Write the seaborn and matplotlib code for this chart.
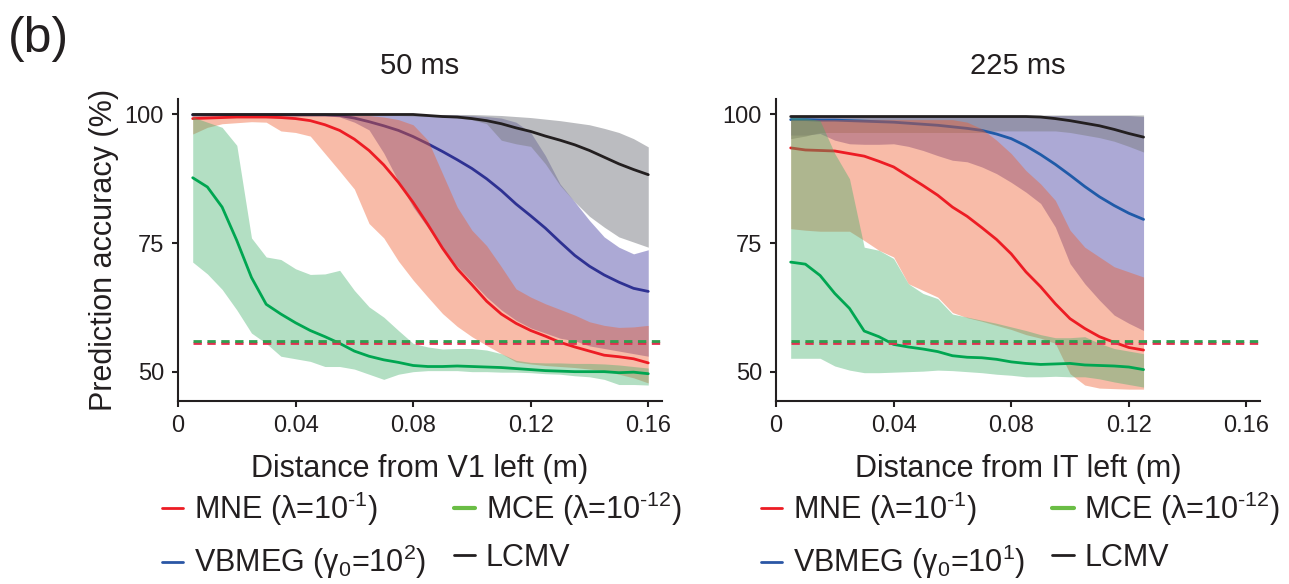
import numpy as np
import pandas as pd
import seaborn as sns
import matplotlib.pyplot as plt
from matplotlib.lines import Line2D

# distance bins (m)
dist_v1 = [round(0.005 * i, 3) for i in range(1, 33)]
dist_it = [round(0.005 * i, 3) for i in range(1, 26)]

# ---- 50 ms, V1 left ----
mne_v1 = [99.2, 99.3, 99.4, 99.5, 99.5, 99.5, 99.4, 99.2, 98.8, 98.0, 96.9, 95.2, 93.0, 90.2, 86.8, 82.9,
          78.6, 74.0, 70.0, 66.9, 63.7, 61.2, 59.4, 58.0, 56.9, 55.7, 54.8, 54.0, 53.2, 52.9, 52.5, 51.7]
mne_v1_hi = [99.8] * 13 + [99.5, 99.0, 98.0, 95.0, 88.5, 82.0, 77.5, 74.5, 70.4, 66.1, 64.5, 63.2, 62.1,
                           61.0, 59.7, 59.0, 58.6, 58.7, 59.0]
mne_v1_lo = [96.2, 97.5, 98.2, 98.4, 98.6, 98.5, 96.8, 96.5, 95.8, 92.4, 89.0, 85.5, 78.8, 76.0, 71.5, 67.8,
             64.5, 61.3, 58.8, 56.8, 55.1, 53.5, 51.9, 51.5, 51.2, 51.0, 50.8, 50.5, 50.2, 49.5, 48.8, 47.8]

vb_v1 = [99.9] * 10 + [99.8, 99.3, 98.6, 97.8, 96.9, 95.7, 94.3, 92.8, 91.2, 89.5, 87.5, 85.2, 82.6, 80.3,
                       77.9, 75.2, 72.6, 70.5, 68.8, 67.4, 66.2, 65.6]
vb_v1_hi = [99.9] * 19 + [99.8, 99.6, 99.3, 98.5, 96.5, 92.0, 86.5, 83.0, 79.4, 76.2, 74.2, 72.9, 73.7]
vb_v1_lo = [99.8] * 10 + [99.5, 98.5, 97.0, 92.5, 87.0, 82.0, 78.0, 74.0, 70.5, 67.5, 64.5, 62.0, 60.0, 58.5,
                          57.5, 56.5, 56.0, 55.0, 54.5, 54.0, 53.5, 53.0]

lcmv_v1 = [100.0] * 16 + [99.8, 99.6, 99.5, 99.2, 98.8, 98.2, 97.4, 96.7, 95.8, 95.0, 94.1, 93.0, 91.7,
                          90.4, 89.3, 88.3]
lcmv_v1_hi = [100.0] * 20 + [99.9, 99.8, 99.6, 99.4, 99.1, 98.8, 98.4, 98.0, 97.3, 96.5, 95.3, 93.7]
lcmv_v1_lo = [99.8] * 15 + [99.7, 99.6, 99.5, 99.3, 99.0, 98.2, 95.0, 94.3, 93.8, 90.4, 86.2, 83.0, 80.2,
                            78.1, 76.2, 75.2, 74.2]

mce_v1 = [87.7, 85.9, 82.0, 75.5, 68.3, 63.1, 61.2, 59.5, 58.0, 56.8, 55.5, 54.0, 53.0, 52.3, 51.8, 51.2,
          51.0, 51.0, 51.1, 51.0, 50.9, 50.8, 50.6, 50.4, 50.2, 50.1, 50.0, 50.0, 50.0, 49.8, 49.9, 49.6]
mce_v1_hi = [99.5, 98.5, 97.5, 94.0, 76.0, 72.3, 71.8, 70.0, 68.9, 69.0, 69.7, 65.8, 62.6, 60.6, 58.0, 55.5,
             54.8, 54.4, 54.5, 54.5, 54.2, 53.5, 52.2, 51.8, 51.7, 51.7, 51.6, 51.6, 51.5, 51.3, 51.0, 50.7]
mce_v1_lo = [71.3, 69.0, 66.0, 62.0, 57.5, 55.5, 53.0, 52.5, 52.0, 51.0, 51.0, 50.5, 49.5, 48.5, 49.5, 50.0,
             50.2, 50.2, 50.2, 50.0, 50.0, 49.9, 49.9, 49.8, 49.6, 49.5, 49.2, 49.0, 48.5, 47.5, 47.5, 47.4]

# ---- 225 ms, IT left ----
mne_it = [93.5, 93.1, 93.0, 92.9, 92.4, 91.9, 90.9, 89.8, 88.0, 86.2, 84.3, 82.0, 80.2, 78.0, 75.7, 72.9,
          69.4, 66.5, 63.2, 60.3, 58.4, 56.8, 55.7, 54.7, 54.2]
mne_it_hi = [99.0] * 12 + [98.5, 97.2, 95.0, 92.4, 89.1, 86.5, 83.3, 77.5, 74.2, 72.3, 70.4, 69.4, 68.4]
mne_it_lo = [77.8, 77.5, 77.3, 77.3, 77.3, 75.5, 73.6, 72.3, 67.1, 65.8, 64.5, 61.5, 60.5, 59.8, 59.0, 58.2,
             57.2, 56.5, 55.5, 49.6, 47.4, 46.8, 46.7, 46.6, 46.6]

vb_it = [99.0, 99.0, 98.9, 98.9, 98.8, 98.7, 98.6, 98.5, 98.3, 98.1, 97.9, 97.6, 97.3, 96.9, 96.2, 95.3,
         93.9, 92.2, 90.3, 88.2, 86.0, 84.0, 82.3, 80.8, 79.6]
vb_it_hi = [99.8] * 24 + [99.6]
vb_it_lo = [96.0, 96.0, 96.3, 95.0, 94.3, 94.2, 94.2, 94.3, 93.8, 93.0, 92.0, 91.1, 90.8, 89.8, 88.5, 86.8,
            84.9, 82.7, 78.1, 71.0, 67.1, 63.9, 61.0, 59.4, 58.0]

lcmv_it = [99.6] * 17 + [99.5, 99.2, 98.8, 98.3, 97.8, 97.1, 96.3, 95.6]
lcmv_it_hi = [99.9] * 25
lcmv_it_lo = [95.3, 95.8] + [96.5] * 12 + [96.8] * 5 + [96.5, 96.0, 95.5, 94.8, 93.8, 92.7]

mce_it = [71.3, 70.9, 68.7, 65.2, 62.3, 57.9, 56.8, 55.3, 54.8, 54.4, 53.9, 53.1, 52.8, 52.7, 52.4, 51.9,
          51.6, 51.4, 51.5, 51.6, 51.3, 51.2, 51.1, 50.9, 50.4]
mce_it_hi = [99.5, 99.3, 98.8, 92.4, 87.5, 74.2, 73.6, 72.0, 67.1, 65.2, 64.2, 61.2, 60.6, 60.0, 59.4, 58.7,
             58.0, 57.2, 56.6, 56.6, 56.8, 55.5, 54.5, 54.0, 53.5]
mce_it_lo = [52.6, 52.6, 52.6, 51.1, 50.3, 49.8, 49.8, 49.9, 50.0, 50.1, 50.3, 50.2, 50.0, 49.8, 49.5, 49.3,
             49.0, 49.0, 49.1, 49.0, 49.0, 48.6, 48.0, 47.5, 47.0]

# chance levels (dashed)
chance_mne = 55.6
chance_mce = 56.0

sns.set_theme(style='ticks')
plt.rcParams['font.family'] = ['Liberation Sans', 'DejaVu Sans']
plt.rcParams['text.color'] = '#231f20'
plt.rcParams['axes.labelcolor'] = '#231f20'
plt.rcParams['xtick.color'] = '#231f20'
plt.rcParams['ytick.color'] = '#231f20'

RED, GREEN, BLACK = '#ed1c24', '#00a651', '#231f20'


def draw_panel(ax, dist, d, vb_color, title, xlabel):
    # bands first (blend order matters for the overlap colours)
    ax.fill_between(dist, d['vb_lo'], d['vb_hi'], color='#5b55ad', alpha=0.5, lw=0, zorder=1)
    ax.fill_between(dist, d['lcmv_lo'], d['lcmv_hi'], color='#7e8086', alpha=0.52, lw=0, zorder=2)
    sns.lineplot(x=dist, y=d['vb'], ax=ax, color=vb_color, lw=2, zorder=2.5)
    ax.fill_between(dist, d['mne_lo'], d['mne_hi'], color='#f05c2d', alpha=0.41, lw=0, zorder=3)
    sns.lineplot(x=dist, y=d['mne'], ax=ax, color=RED, lw=2, zorder=3.5)
    ax.fill_between(dist, d['mce_lo'], d['mce_hi'], color='#41af6b', alpha=0.4, lw=0, zorder=4)
    sns.lineplot(x=dist, y=d['mce'], ax=ax, color=GREEN, lw=2, zorder=5)
    sns.lineplot(x=dist, y=d['lcmv'], ax=ax, color=BLACK, lw=2, zorder=5.5)
    ax.hlines(chance_mne, dist[0], 0.1646, color='#e0304f', lw=2, linestyles=(0, (3, 2)), zorder=6)
    ax.hlines(chance_mce, dist[0], 0.1646, color='#2e9e4f', lw=2, linestyles=(0, (3, 2)), zorder=6.5)

    ax.set_xlim(0, 0.1646)
    ax.set_ylim(44.3, 103)
    ax.set_xticks([0, 0.04, 0.08, 0.12, 0.16])
    ax.set_xticklabels(['0', '0.04', '0.08', '0.12', '0.16'])
    ax.set_yticks([50, 75, 100])
    ax.tick_params(labelsize=17, length=4, width=1.5, pad=6)
    for s in ['top', 'right']:
        ax.spines[s].set_visible(False)
    for s in ['left', 'bottom']:
        ax.spines[s].set_linewidth(1.5)
        ax.spines[s].set_color(BLACK)
    ax.set_title(title, fontsize=21, pad=18)
    ax.set_xlabel(xlabel, fontsize=22, labelpad=12)
    ax.set_ylabel('')


def add_legend(fig, x0, vb_label):
    handles = [Line2D([], [], color=RED, lw=2), Line2D([], [], color='#2a56a5', lw=2),
               Line2D([], [], color='#6abd45', lw=3), Line2D([], [], color=BLACK, lw=2)]
    labels = [r'MNE (λ=10$\mathregular{^{‐1}}$)', vb_label,
              r'MCE (λ=10$\mathregular{^{‐12}}$)', 'LCMV']
    fig.legend(handles, labels, ncol=2, loc='upper left', bbox_to_anchor=(x0, 0.162),
               frameon=False, fontsize=22, handlelength=0.7, handletextpad=0.35,
               columnspacing=0.9, labelspacing=0.5, borderpad=0, borderaxespad=0)


fig = plt.figure(figsize=(12.89, 5.84), dpi=100)
ax1 = fig.add_axes([0.1381, 0.3134, 0.3753, 0.517])
ax2 = fig.add_axes([0.602, 0.3134, 0.3755, 0.517])

v1 = dict(mne=mne_v1, mne_hi=mne_v1_hi, mne_lo=mne_v1_lo, vb=vb_v1, vb_hi=vb_v1_hi, vb_lo=vb_v1_lo,
          lcmv=lcmv_v1, lcmv_hi=lcmv_v1_hi, lcmv_lo=lcmv_v1_lo, mce=mce_v1, mce_hi=mce_v1_hi, mce_lo=mce_v1_lo)
it = dict(mne=mne_it, mne_hi=mne_it_hi, mne_lo=mne_it_lo, vb=vb_it, vb_hi=vb_it_hi, vb_lo=vb_it_lo,
          lcmv=lcmv_it, lcmv_hi=lcmv_it_hi, lcmv_lo=lcmv_it_lo, mce=mce_it, mce_hi=mce_it_hi, mce_lo=mce_it_lo)

draw_panel(ax1, dist_v1, v1, '#2e3192', '50 ms', 'Distance from V1 left (m)')
draw_panel(ax2, dist_it, it, '#1f5aa8', '225 ms', 'Distance from IT left (m)')
ax1.set_ylabel('Prediction accuracy (%)', fontsize=22, labelpad=4)

add_legend(fig, 0.1257, r'VBMEG (γ$\mathregular{_0}$=10$\mathregular{^{2}}$)')
add_legend(fig, 0.590, r'VBMEG (γ$\mathregular{_0}$=10$\mathregular{^{1}}$)')

fig.text(0.006, 0.972, '(b)', fontsize=36, va='top', ha='left')

fig.savefig('out.png', dpi=100)
